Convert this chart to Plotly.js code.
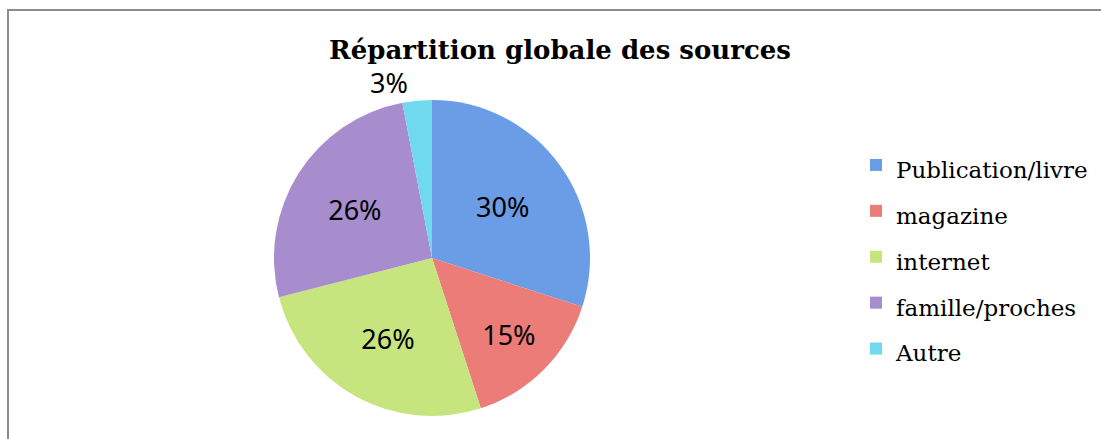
<!DOCTYPE html>
<html><head><meta charset="utf-8">
<script src="https://cdn.plot.ly/plotly-3.0.1.min.js"></script>
<style>html,body{margin:0;padding:0;background:#fff}#c{width:1101px;height:439px}</style>
</head><body><div id="c"></div>
<script>
const categories = ["Publication/livre", "magazine", "internet", "famille/proches", "Autre"];
const values = [30, 15, 26, 26, 3];
const sliceColors = ["#6b9de6", "#eb7c77", "#c6e57e", "#a78dcd", "#6fd9ee"];
const titleText = "Répartition globale des sources";

const legendLabels = categories.map(c => "<span style='font-size:23px'>" + c + "</span>");

const trace = {
  type: "pie",
  labels: legendLabels,
  values: values,
  sort: false,
  direction: "clockwise",
  rotation: 0,
  marker: {colors: sliceColors, line: {width: 0}},
  textinfo: "percent",
  texttemplate: "%{percent:.0%}",
  textposition: ["inside", "inside", "inside", "inside", "outside"],
  insidetextorientation: "horizontal",
  textfont: {family: "Noto Sans", size: 27, color: "#000"},
  domain: {x: [274/1101, 590/1101], y: [23/439, 339/439]},
  hoverinfo: "label+percent"
};

const layout = {
  width: 1101, height: 439,
  margin: {l: 0, r: 0, t: 0, b: 0},
  paper_bgcolor: "#fff",
  title: {text: titleText, x: 560/1101, xanchor: "center", y: 1 - 50/439, yanchor: "middle",
          font: {family: "DejaVu Serif", size: 26, color: "#000", weight: "bold"}},
  showlegend: true,
  legend: {x: 856/1101, xanchor: "left", y: 1 - 137/439, yanchor: "top",
           font: {family: "DejaVu Serif", size: 33, color: "#000"},
           bgcolor: "rgba(0,0,0,0)", itemclick: false, itemwidth: 30},
  shapes: [{type: "rect", xref: "paper", yref: "paper", x0: 8/1101, x1: 1.02, y0: -0.02, y1: 1 - 10/439,
            line: {color: "#8c8c8c", width: 2}, fillcolor: "rgba(0,0,0,0)"}]
};
Plotly.newPlot("c", [trace], layout, {displayModeBar: false, staticPlot: true});
</script></body></html>
